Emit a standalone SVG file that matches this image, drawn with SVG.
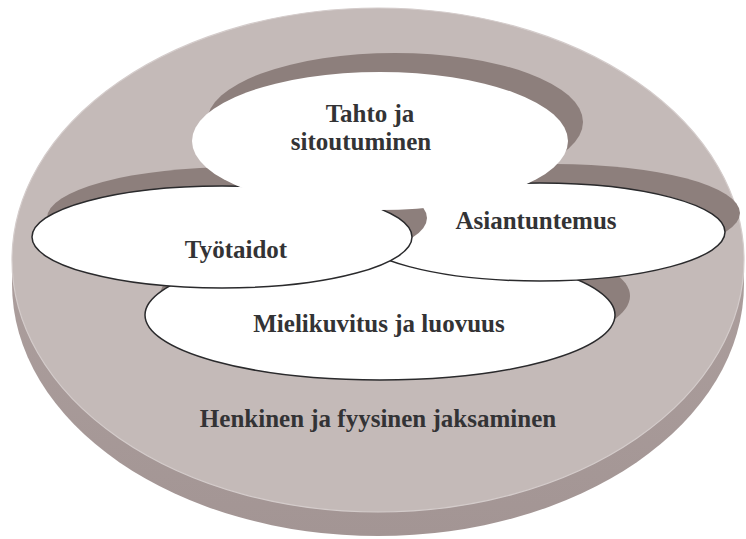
<svg xmlns="http://www.w3.org/2000/svg" width="746" height="539" viewBox="0 0 746 539">
  <style>
    .label { font-family: "Liberation Serif", "Times New Roman", serif; font-weight: bold; font-size: 25px; fill: #333335; text-anchor: middle; }
    .shadow { fill: #8d7f7c; }
    .bubble { fill: #ffffff; stroke: #2a2a2c; stroke-width: 1.5; }
    .bubble-plain { fill: #ffffff; stroke: none; }
  </style>
  <defs>
    <linearGradient id="sideShade" x1="0" y1="0" x2="0" y2="1">
      <stop offset="0" stop-color="#b3a6a4"/>
      <stop offset="1" stop-color="#a39594"/>
    </linearGradient>
  </defs>

  <!-- outer disk: extruded side, then top face -->
  <g id="disk">
    <ellipse cx="378" cy="284" rx="366" ry="252" fill="url(#sideShade)"/>
    <ellipse cx="378" cy="260" rx="366" ry="252" fill="#c4bab8" stroke="#d4cccb" stroke-width="1.2"/>
    <text class="label" x="378" y="427">Henkinen ja fyysinen jaksaminen</text>
  </g>

  <g id="mielikuvitus">
    <ellipse class="shadow" cx="395" cy="296" rx="235" ry="65"/>
    <ellipse class="bubble" cx="380" cy="315" rx="235" ry="65"/>
    <text class="label" x="379" y="332">Mielikuvitus ja luovuus</text>
  </g>

  <g id="asiantuntemus">
    <ellipse class="shadow" cx="555" cy="213" rx="185" ry="49"/>
    <ellipse class="bubble" cx="540" cy="232" rx="185" ry="49"/>
    <text class="label" x="536" y="229">Asiantuntemus</text>
  </g>

  <g id="tyotaidot">
    <ellipse class="shadow" cx="237" cy="218" rx="190" ry="51"/>
    <ellipse class="bubble" cx="222" cy="237" rx="190" ry="51"/>
    <text class="label" x="236" y="258">Työtaidot</text>
  </g>

  <g id="tahto">
    <ellipse class="shadow" cx="395" cy="122" rx="188" ry="69"/>
    <ellipse class="bubble-plain" cx="380" cy="141" rx="188" ry="69"/>
    <text class="label" x="370" y="122">Tahto ja</text>
    <text class="label" x="361" y="150">sitoutuminen</text>
  </g>

  <g id="connectors"/>
</svg>
